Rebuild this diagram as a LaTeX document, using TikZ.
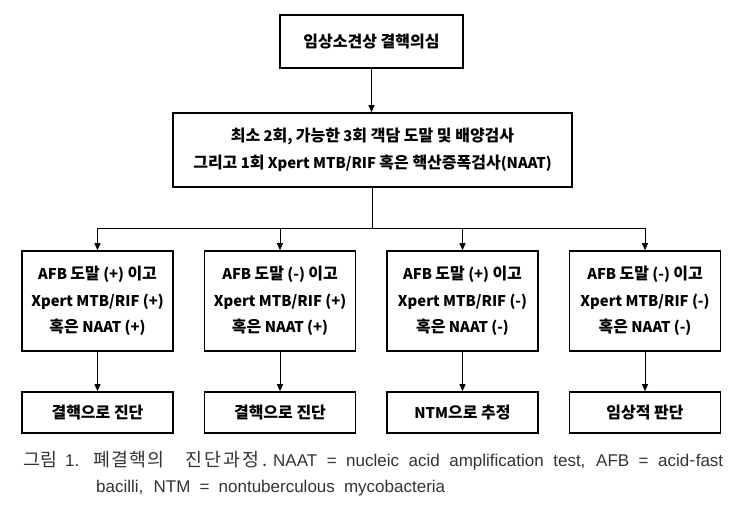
\documentclass[tikz,border=0pt]{standalone}
\usepackage{fontspec}
\setmainfont{Liberation Sans}
\newfontfamily\kob{Noto Sans CJK KR}
\newfontfamily\hkf{Noto Sans CJK KR}[Scale=1.08]
\newcommand\hk[1]{{\hkf #1}}
\newfontfamily\kor{Noto Sans CJK KR}[Scale=1.08]
\usetikzlibrary{arrows.meta}
\begin{document}
\begin{tikzpicture}[x=1pt,y=-1pt,
  box/.style={draw=black, line width=1.6pt, align=center, inner sep=0pt,
    font=\kob\bfseries\fontsize{14.8}{26.5}\selectfont},
  lowbox/.style={box, minimum width=151pt, minimum height=100pt},
  endbox/.style={box, minimum width=151pt, minimum height=41pt},
  conn/.style={line width=0.8pt},
  arr/.style={conn, -{Triangle[length=7pt,width=6pt]}},
  captxt/.style={anchor=west, inner sep=0pt, text=black!80, font=\fontsize{17}{20}\selectfont}
]
\useasboundingbox (0,0) rectangle (740,515);
\node[box, minimum width=183pt, minimum height=53pt] (top) at (371.5,41.5) {\hk{임상소견상 결핵의심}};
\node[box, minimum width=399pt, minimum height=74pt] (mid) at (372.5,150)
  {\hk{최소} 2\hk{회}, \hk{가능한} 3\hk{회 객담 도말 및 배양검사}\\\hk{그리고} 1\hk{회} Xpert MTB/RIF \hk{혹은 핵산증폭검사}(NAAT)};
\node[lowbox] (l1) at (97.5,301) {AFB \hk{도말} (+) \hk{이고}\\Xpert MTB/RIF (+)\\\hk{혹은} NAAT (+)};
\node[lowbox] (l2) at (280,301) {AFB \hk{도말} (-) \hk{이고}\\Xpert MTB/RIF (+)\\\hk{혹은} NAAT (+)};
\node[lowbox] (l3) at (462.5,301) {AFB \hk{도말} (+) \hk{이고}\\Xpert MTB/RIF (-)\\\hk{혹은} NAAT (-)};
\node[lowbox] (l4) at (645,301) {AFB \hk{도말} (-) \hk{이고}\\Xpert MTB/RIF (-)\\\hk{혹은} NAAT (-)};
\node[endbox] (f1) at (97.5,412.5) {\hk{결핵으로 진단}};
\node[endbox] (f2) at (280,412.5) {\hk{결핵으로 진단}};
\node[endbox] (f3) at (462.5,412.5) {NTM\hk{으로 추정}};
\node[endbox] (f4) at (645,412.5) {\hk{임상적 판단}};
\coordinate (hub) at (372.5,228);
\draw[arr] (top.south) -- (top.south |- mid.north);
\draw[conn] (mid.south) -- (hub);
\foreach \i in {1,2,3,4} {
  \draw[arr] (hub) -| (l\i);
  \draw[arr] (l\i) -- (f\i);
}
\node[captxt] (cap1) at (23,461) {\hbox to 700pt{%
  \makebox[32pt][l]{\kor 그\hfill 림}\kern10pt
  \makebox[15pt][l]{1.}\kern13pt
  \makebox[71pt][l]{\kor 폐\hfill 결\hfill 핵\hfill 의}\kern21pt
  \makebox[82pt][l]{\kor 진\hfill 단\hfill 과\hfill 정\hfill .}\kern6pt
  \makebox[450pt][s]{NAAT = nucleic acid amplification test, AFB = acid{\kor -}fast}}};
\node[captxt] (cap2) at (96,488) {\makebox[349pt][s]{bacilli, NTM = nontuberculous mycobacteria}};
\end{tikzpicture}
\end{document}
